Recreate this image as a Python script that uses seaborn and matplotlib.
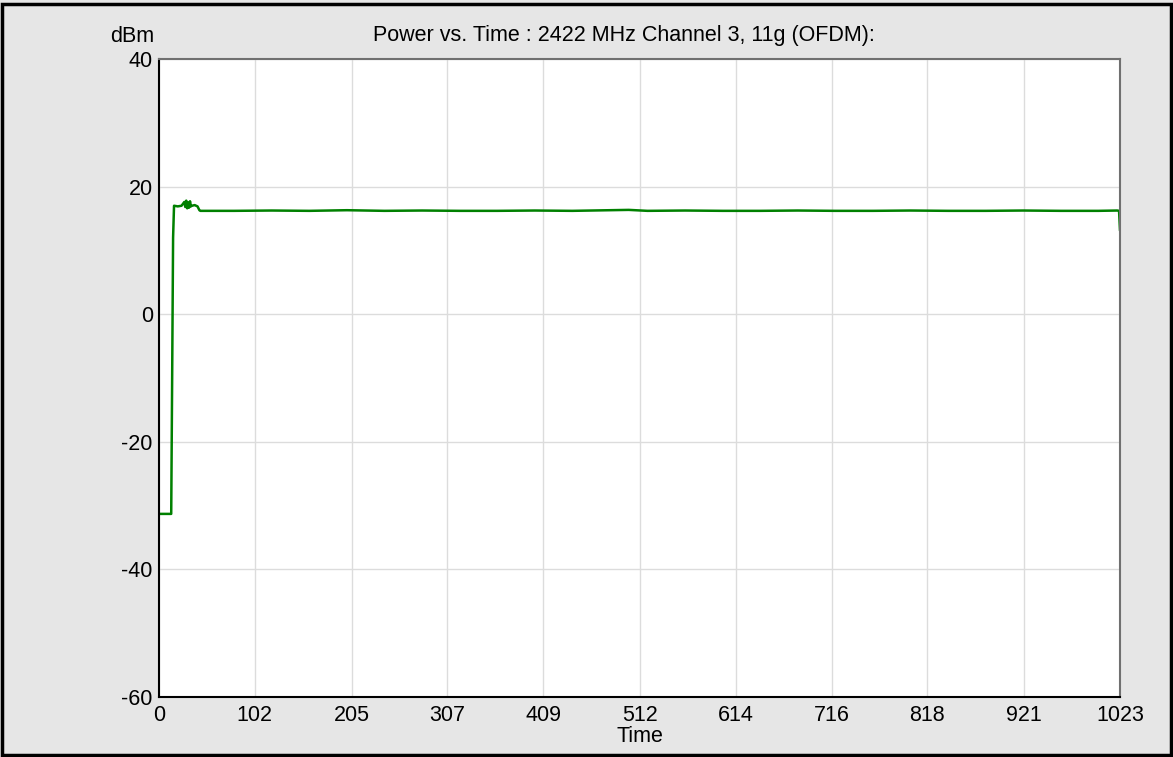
import matplotlib
matplotlib.use("Agg")
import matplotlib.pyplot as plt
import seaborn as sns
import pandas as pd

sns.set_theme(style="white")
plt.rcParams['font.family'] = ['Liberation Sans', 'DejaVu Sans']
plt.rcParams['text.color'] = 'black'

# Sample index and power level (dBm)
time_idx = [0, 13, 14, 15, 16, 20, 24, 27, 28, 29, 30, 31, 32, 33, 34, 35, 38, 41, 43, 44,
            80, 120, 160, 200, 240, 280, 320, 360, 400, 440, 480, 500, 520, 560, 600,
            640, 680, 720, 760, 800, 840, 880, 920, 960, 1000, 1020, 1022, 1023]
power_dbm = [-31.3, -31.3, -10.0, 12.0, 17.0, 16.9, 17.0, 17.6, 16.8, 17.8, 16.6, 17.5, 16.7,
             17.7, 16.9, 17.0, 17.1, 16.9, 16.3, 16.2,
             16.2, 16.25, 16.2, 16.3, 16.2, 16.25, 16.2, 16.2, 16.25, 16.2, 16.3, 16.35, 16.2,
             16.25, 16.2, 16.2, 16.25, 16.2, 16.2, 16.25, 16.2, 16.2, 16.25, 16.2, 16.2,
             16.25, 16.2, 13.1]

x_ticks = [0, 102, 205, 307, 409, 512, 614, 716, 818, 921, 1023]
y_ticks = [-60, -40, -20, 0, 20, 40]
title = "Power vs. Time : 2422 MHz Channel 3, 11g (OFDM):"

df = pd.DataFrame({"Time": time_idx, "dBm": power_dbm})

fig = plt.figure(figsize=(11.73, 7.57), dpi=100, facecolor="#e6e6e6")
ax = fig.add_axes([159/1173, 1-697/757, (1120-159)/1173, (697-59)/757])
ax.set_facecolor("white")

sns.lineplot(data=df, x="Time", y="dBm", ax=ax, color="#008000", linewidth=1.8)

ax.set_xlim(0, 1023)
ax.set_ylim(-60, 40)
ax.set_xticks(x_ticks)
ax.set_xticklabels([str(t) for t in x_ticks])
ax.set_yticks(y_ticks)
ax.set_yticklabels([str(t) for t in y_ticks])
ax.grid(True, color="#dcdcdc", linewidth=1.0)
ax.tick_params(axis="both", direction="inout", length=7, width=1, colors="black",
               labelsize=15.5)
ax.tick_params(axis="x", pad=2)
ax.tick_params(axis="y", pad=1)
ax.set_xlabel("")
ax.set_ylabel("")
for s in ["left", "bottom"]:
    ax.spines[s].set_color("black")
    ax.spines[s].set_linewidth(1.5)
for s in ["top", "right"]:
    ax.spines[s].set_color("#707070")
    ax.spines[s].set_linewidth(1.5)

fig.text(623.5/1173, 1-35/757, title, fontsize=15.5, ha="center", va="center", color="black")
fig.text(132/1173, 1-36/757, "dBm", fontsize=15.5, ha="center", va="center", color="black")
fig.text(639.5/1173, 1-737/757, "Time", fontsize=15.5, ha="center", va="center", color="black")

# outer border
fig.patches.append(plt.Rectangle((0.002, 0.002), 0.996, 0.993, transform=fig.transFigure,
                                 fill=False, edgecolor="black", linewidth=2.5))

fig.savefig("out.png", dpi=100, facecolor=fig.get_facecolor())
